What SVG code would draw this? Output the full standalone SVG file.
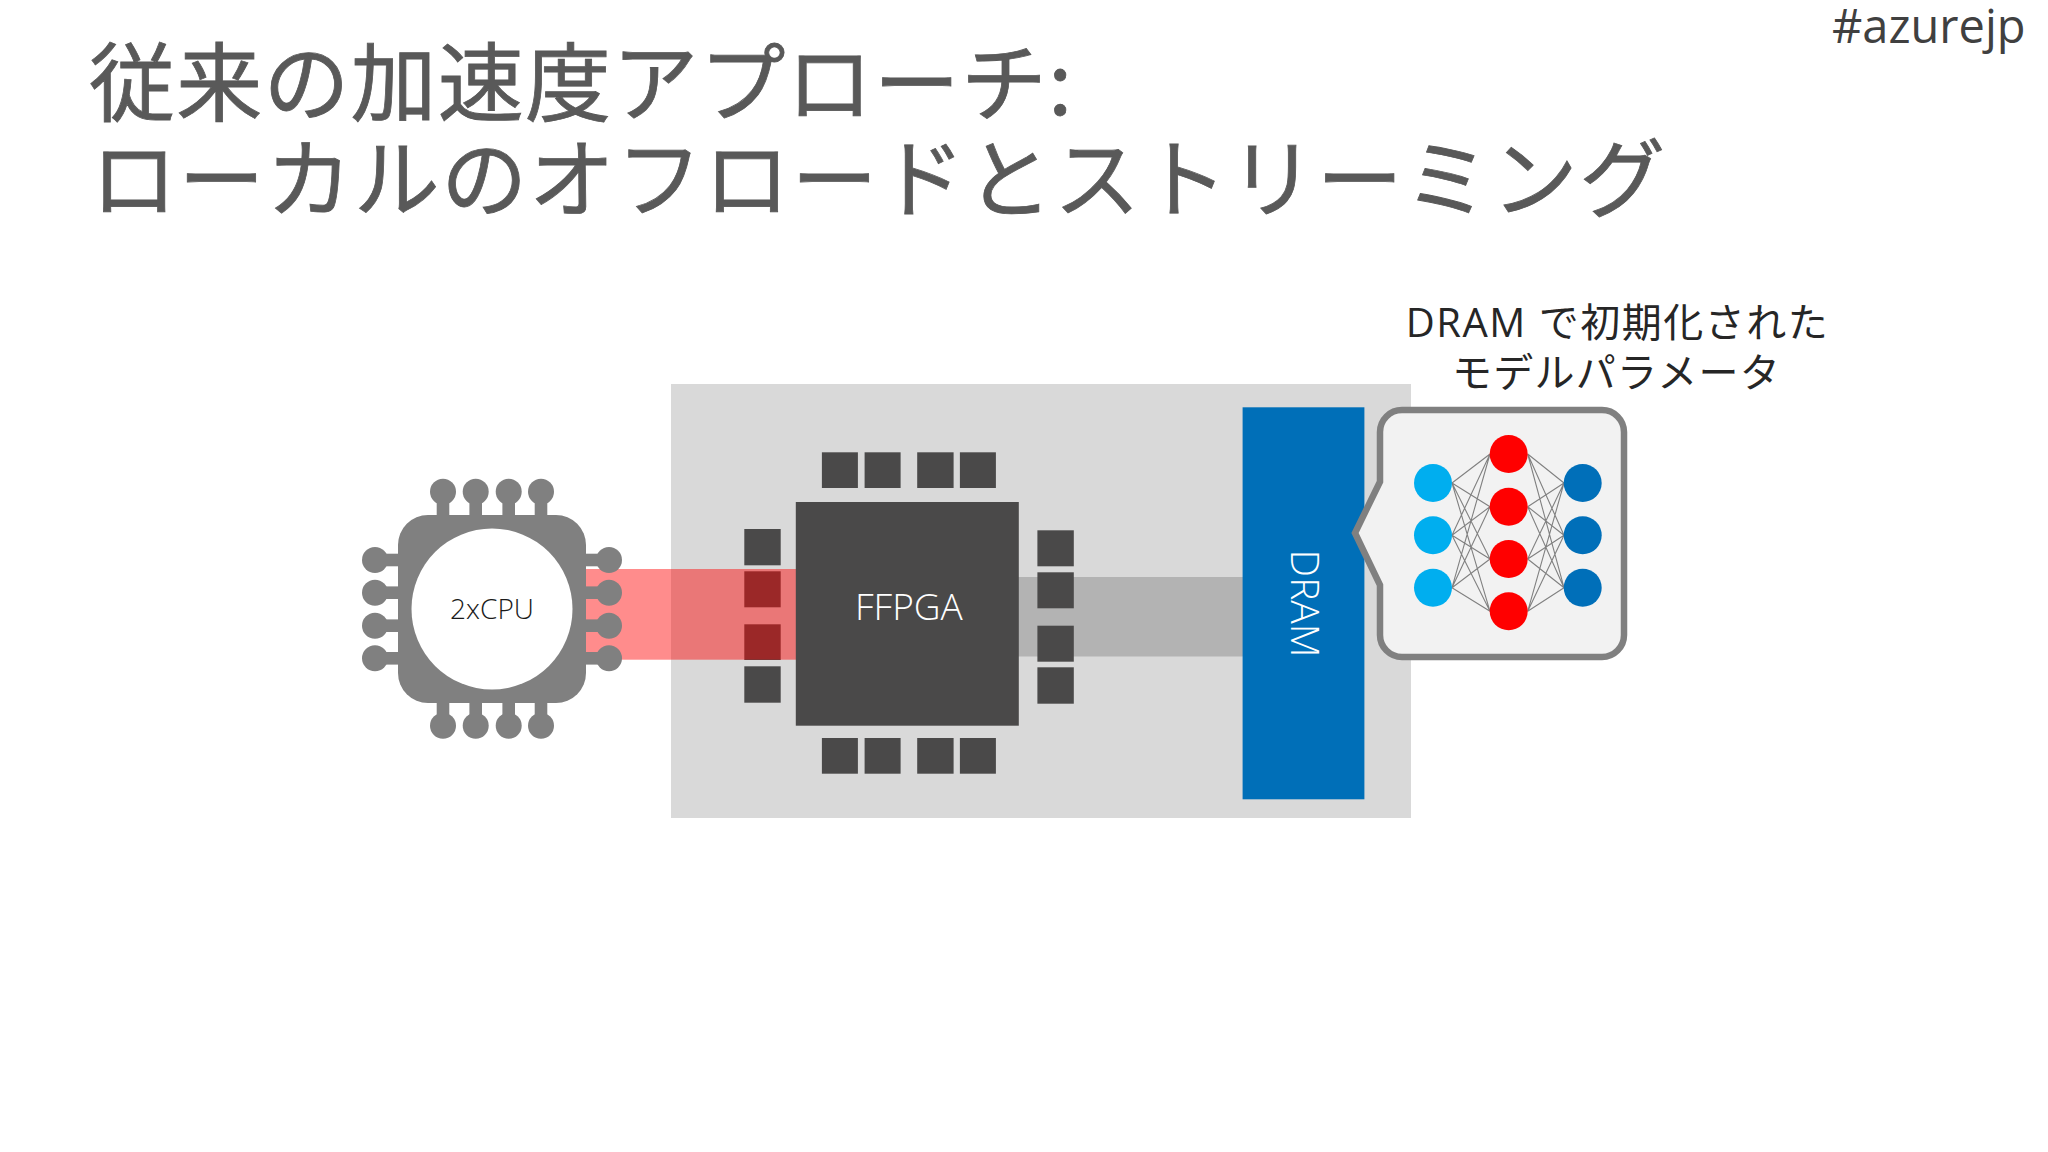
<svg xmlns="http://www.w3.org/2000/svg" width="2048" height="1152" viewBox="0 0 2048 1152">
<defs>
<g id="pinT"><rect x="-6.3" y="0" width="12.6" height="26" fill="#808080"/><circle cx="0" cy="0" r="13" fill="#808080"/></g>
<g id="pinB"><rect x="-6.3" y="-26" width="12.6" height="26" fill="#808080"/><circle cx="0" cy="0" r="13" fill="#808080"/></g>
<g id="pinL"><rect x="0" y="-6.3" width="26" height="12.6" fill="#808080"/><circle cx="0" cy="0" r="13" fill="#808080"/></g>
<g id="pinR"><rect x="-26" y="-6.3" width="26" height="12.6" fill="#808080"/><circle cx="0" cy="0" r="13" fill="#808080"/></g>
</defs>
<style>
.title{font-family:"Noto Sans CJK JP","Noto Sans",sans-serif;font-size:86px;fill:#595959;font-weight:400;stroke:#595959;stroke-width:0.8}
.lab{font-family:"Open Sans","Noto Sans CJK JP",sans-serif;fill:#1a1a1a;font-weight:300}
.pad{fill:#4a4949}
.syn{stroke:#808080;stroke-width:1.1;fill:none}
</style>
<rect width="2048" height="1152" fill="#ffffff"/>
<text id="title1" class="title" x="89" y="115" letter-spacing="1.2">従来の加速度アプローチ:</text>
<text id="title2" class="title" x="91" y="211" letter-spacing="1.55">ローカルのオフロードとストリーミング</text>
<text id="hashtag" x="1832" y="43" font-family="Open Sans,sans-serif" font-size="47" fill="#404040">#azurejp</text>
<g id="board"><rect x="671" y="384" width="740" height="434" fill="#d9d9d9"/></g>
<g id="connectors">
<rect x="1018" y="577" width="225" height="79.500" fill="#b3b3b3"/>
</g>
<g id="fpga-pads">
<rect class="pad" x="744.300" y="529" width="36.400" height="36.300"/>
<rect class="pad" x="744.300" y="571.300" width="36.400" height="36"/>
<rect class="pad" x="744.300" y="624.300" width="36.400" height="35.700"/>
<rect class="pad" x="744.300" y="666.300" width="36.400" height="36.400"/>
<rect class="pad" x="821.900" y="452.300" width="36" height="35.700"/>
<rect class="pad" x="864.600" y="452.300" width="36" height="35.700"/>
<rect class="pad" x="917.200" y="452.300" width="36.400" height="35.700"/>
<rect class="pad" x="959.900" y="452.300" width="36" height="35.700"/>
<rect class="pad" x="821.900" y="738" width="36" height="35.700"/>
<rect class="pad" x="864.600" y="738" width="36" height="35.700"/>
<rect class="pad" x="917.200" y="738" width="36.400" height="35.700"/>
<rect class="pad" x="959.900" y="738" width="36" height="35.700"/>
<rect class="pad" x="1037.400" y="530.300" width="36.400" height="36"/>
<rect class="pad" x="1037.400" y="572.300" width="36.400" height="36"/>
<rect class="pad" x="1037.400" y="625.700" width="36.400" height="36"/>
<rect class="pad" x="1037.400" y="667.300" width="36.400" height="36.400"/>
</g>
<rect id="pcie-band" x="586" y="569" width="210" height="90.700" fill="#ff0000" fill-opacity="0.45"/>
<g id="cpu">
<use href="#pinT" x="443" y="491.700"/><use href="#pinT" x="475.700" y="491.700"/><use href="#pinT" x="508.700" y="491.700"/><use href="#pinT" x="541" y="491.700"/>
<use href="#pinB" x="443" y="725.700"/><use href="#pinB" x="475.700" y="725.700"/><use href="#pinB" x="508.700" y="725.700"/><use href="#pinB" x="541" y="725.700"/>
<use href="#pinL" x="375" y="560"/><use href="#pinL" x="375" y="592.700"/><use href="#pinL" x="375" y="625.700"/><use href="#pinL" x="375" y="658.300"/>
<use href="#pinR" x="609" y="560"/><use href="#pinR" x="609" y="592.700"/><use href="#pinR" x="609" y="625.700"/><use href="#pinR" x="609" y="658.300"/>
<rect x="398" y="515" width="188" height="188" rx="30" fill="#808080"/>
<circle cx="492" cy="609" r="80.500" fill="#ffffff"/>
<text class="lab" x="492" y="619" font-size="28" text-anchor="middle">2xCPU</text>
</g>
<g id="fpga">
<rect x="795.800" y="502" width="223" height="223.700" fill="#4a4949"/>
<text x="908.900" y="620" font-family="Open Sans,sans-serif" font-weight="300" font-size="37" fill="#ffffff" text-anchor="middle">FFPGA</text>
</g>
<g id="dram">
<rect x="1242.600" y="407.300" width="121.800" height="392" fill="#006fb8"/>
<text transform="translate(1291 603.500) rotate(90)" font-family="Open Sans,sans-serif" font-weight="300" font-size="39" fill="#ffffff" text-anchor="middle">DRAM</text>
</g>
<g id="callout">
<path d="M1402 410H1602a22 22 0 0 1 22 22V635a22 22 0 0 1 -22 22H1402a22 22 0 0 1 -22 -22V585L1355 533L1380 481.700V432a22 22 0 0 1 22 -22Z" fill="#f2f2f2" stroke="#808080" stroke-width="6.500" stroke-linejoin="miter"/>
</g>
<g id="network-connectors">
<path class="syn" d="M1452 483L1490 454M1452 483L1490 506.700M1452 483L1490 559M1452 483L1490 611.300M1452 535.300L1490 454M1452 535.300L1490 506.700M1452 535.300L1490 559M1452 535.300L1490 611.300M1452 587.700L1490 454M1452 587.700L1490 506.700M1452 587.700L1490 559M1452 587.700L1490 611.300"/>
<path class="syn" d="M1564 483L1527.700 454M1564 483L1527.700 506.700M1564 483L1527.700 559M1564 483L1527.700 611.300M1564 535.300L1527.700 454M1564 535.300L1527.700 506.700M1564 535.300L1527.700 559M1564 535.300L1527.700 611.300M1564 587.700L1527.700 454M1564 587.700L1527.700 506.700M1564 587.700L1527.700 559M1564 587.700L1527.700 611.300"/>
</g>
<g id="network-nodes">
<circle cx="1433" cy="483" r="19" fill="#00aeef"/><circle cx="1433" cy="535.300" r="19" fill="#00aeef"/><circle cx="1433" cy="587.700" r="19" fill="#00aeef"/>
<circle cx="1508.700" cy="454" r="19" fill="#ff0000"/><circle cx="1508.700" cy="506.700" r="19" fill="#ff0000"/><circle cx="1508.700" cy="559" r="19" fill="#ff0000"/><circle cx="1508.700" cy="611.300" r="19" fill="#ff0000"/>
<circle cx="1582.700" cy="483" r="19" fill="#006fb9"/><circle cx="1582.700" cy="535.300" r="19" fill="#006fb9"/><circle cx="1582.700" cy="587.700" r="19" fill="#006fb9"/>
</g>
<g id="caption">
<text x="1617.500" y="337" font-family="Open Sans,Noto Sans CJK JP,sans-serif" font-size="40" letter-spacing="1.500" fill="#262626" text-anchor="middle">DRAM で初期化された</text>
<text x="1616.500" y="387" font-family="Noto Sans CJK JP,sans-serif" font-size="40" letter-spacing="1.300" fill="#262626" text-anchor="middle">モデルパラメータ</text>
</g>
</svg>
